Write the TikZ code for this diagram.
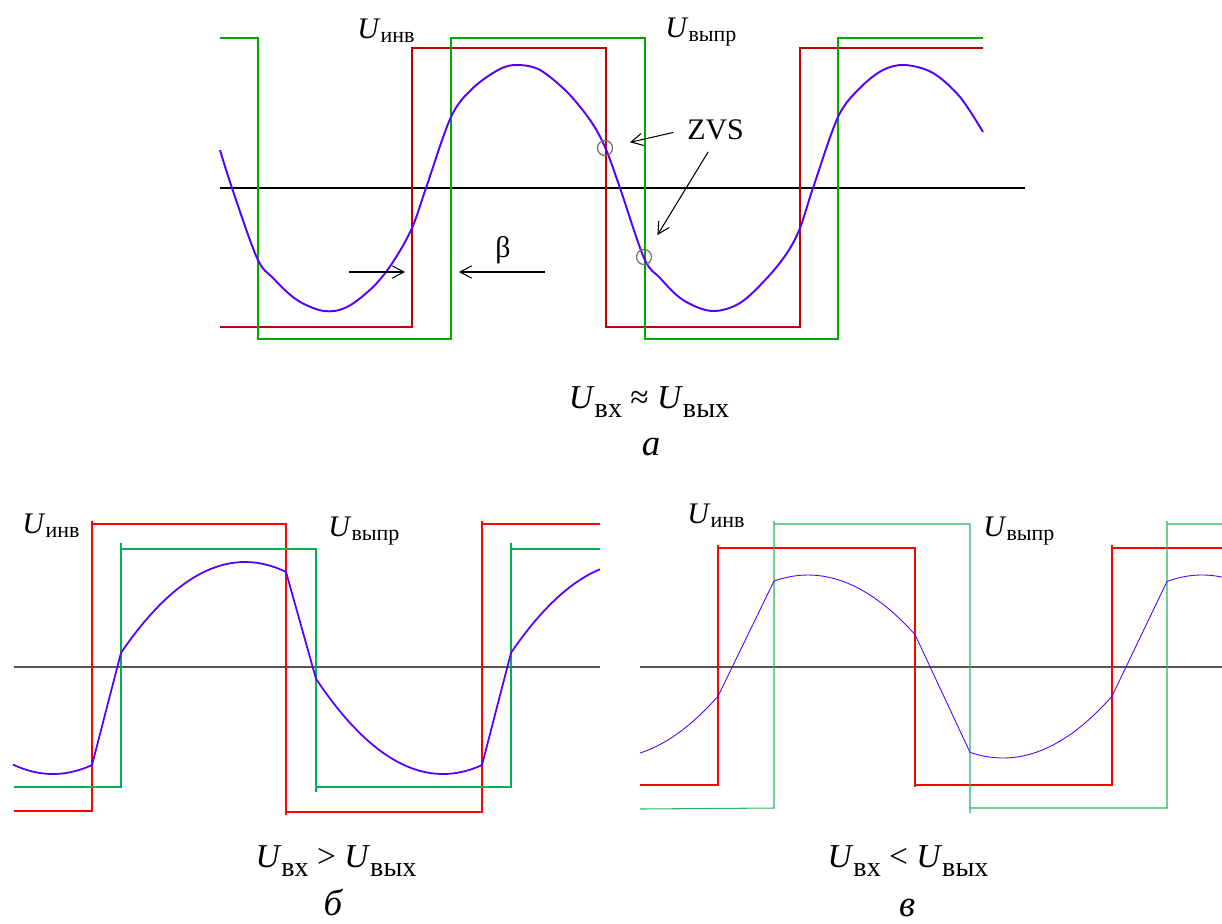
\documentclass[tikz,border=0pt]{standalone}
\usepackage{fontspec}
\setmainfont{Liberation Serif}
\usepackage{tikz}
\usetikzlibrary{arrows.meta,calc}
\definecolor{wavered}{RGB}{192,0,0}
\definecolor{wavegreen}{RGB}{0,170,0}
\definecolor{waveblue}{RGB}{85,0,255}
\definecolor{brightred}{RGB}{255,0,0}
\definecolor{softgreen}{RGB}{0,176,80}
\definecolor{palegreen}{RGB}{40,180,100}
\definecolor{ringgray}{RGB}{110,110,110}
\definecolor{axisgray}{RGB}{85,85,85}
\newcommand{\Ulab}[1]{\textit{U}\raisebox{-2.4pt}{\fontsize{12.5}{13}\selectfont #1}}
\newcommand{\Ucap}[1]{\textit{U}\raisebox{-5.5pt}{\fontsize{16}{17}\selectfont #1}}

\begin{document}
\begin{tikzpicture}[x=0.02cm,y=-0.02cm,
    axisline/.style={line width=0.6pt},
    sqa/.style={line width=1.1pt},
    sqb/.style={line width=1pt},
    sqc/.style={line width=0.6pt},
    wavea/.style={waveblue,line width=1.1pt},
    waveb/.style={waveblue,line width=1pt},
    wavec/.style={waveblue,line width=0.5pt},
    ring/.style={circle,draw=ringgray,line width=0.7pt,minimum size=0.3cm,inner sep=0pt},
    lbl/.style={font=\fontsize{17}{20}\selectfont,inner sep=0pt},
    captext/.style={font=\fontsize{19}{22}\selectfont,inner sep=0pt,anchor=base},
    tagtext/.style={font=\fontsize{21}{24}\selectfont\itshape,inner sep=0pt,anchor=base},
    arr/.style={-{Straight Barb[length=6.6pt,width=7pt]},line width=0.6pt}]
  \useasboundingbox (0,0) rectangle (1222,923);

  % --- a ---
  \draw[axisline] (220,188) -- (1025,188);
  \draw[sqa,wavered] (220,327) -| (412,48) -| (606,327) -| (800,48) -- (983,48);
  \draw[sqa,wavegreen] (220,38) -| (258,339) -| (451,38) -| (645,339) -| (838,38) -- (983,38);
  \draw[wavea] plot[smooth,tension=0.55] coordinates {(220,150) (232,188) (257,258) (273,278)
    (297,300) (324,311) (347,307) (373,287) (393,262) (412,228) (426,188) (451,117) (473,88)
    (500,69) (518,65) (540,70) (567,92) (590,120) (605,147) (620,188) (644,258) (660,278)
    (683,300) (712,311) (740,303) (767,278) (787,253) (800,228) (813,188) (838,117) (860,88)
    (883,70) (905,65) (933,73) (960,97) (983,132)};
  \node[ring] (c1) at (605,148) {};
  \node[ring] (c2) at (644,257) {};

  \node[lbl,anchor=base west] (uinvA) at (357,38) {\Ulab{инв}};
  \node[lbl,anchor=base west] (uvyprA) at (665,37) {\Ulab{выпр}};
  \node[lbl,anchor=base west] (zvs) at (687,139) {ZVS};
  \draw[arr,shorten <=8pt,shorten >=10pt] (zvs.west) -- (c1);
  \draw[arr,shorten <=8pt,shorten >=10pt] (zvs.south) -- (c2);

  \coordinate (redup) at (412,272);
  \coordinate (greenup) at (451,272);
  \coordinate (betaL) at (349,272);
  \coordinate (betaR) at (545,272);
  \draw[arr,shorten >=4pt] (betaL) -- (redup);
  \draw[arr,shorten >=4.5pt] (betaR) -- (greenup);
  \node[lbl] (beta) at (503,250) {β};

  \node[captext] (capA) at (649,408) {\Ucap{вх} ≈ \Ucap{вых}};
  \node[tagtext] (tagA) at (651,455) {а};

  % --- b ---
  \draw[axisline,axisgray] (14,667) -- (600,667);
  \draw[sqb,brightred] (14,811) -- (92,811) -- (92,521) (92,524) -- (286,524) -- (286,815)
    (286,812) -- (482,812) -- (482,521) (482,524) -- (600,524);
  \draw[sqb,softgreen] (14,787) -- (121,787) -- (121,543) (121,549) -- (316,549) -- (316,792)
    (316,787) -- (511,787) -- (511,543) (511,549) -- (600,549);
  \draw[waveb] plot[domain=13:92,samples=20] (\x,{774-0.0059*(\x-53)^2})
    -- plot[domain=121:286,samples=30] (\x,{562+0.0059*(\x-245)^2})
    -- plot[domain=316:482,samples=30] (\x,{774-0.0059*(\x-443)^2})
    -- plot[domain=511:600,samples=20] (\x,{562+0.0059*(\x-635)^2});

  \node[lbl,anchor=base west] (uinvB) at (22,533) {\Ulab{инв}};
  \node[lbl,anchor=base west] (uvyprB) at (328,536) {\Ulab{выпр}};
  \node[captext] (capB) at (336,867) {\Ucap{вх} > \Ucap{вых}};
  \node[tagtext] (tagB) at (333,915) {б};

  % --- c ---
  \draw[axisline,axisgray] (640,667) -- (1222,667);
  \draw[sqc,brightred] (640,785) -- (718,785) -- (718,545) (718,548) -- (915,548) -- (915,787)
    (915,785) -- (1112,785) -- (1112,545) (1112,548) -- (1222,548);
  \draw[sqc,palegreen] (640,809) -- (774,808) -- (774,521) (774,524) -- (970,524) -- (970,813)
    (970,808) -- (1167,808) -- (1167,521) (1167,524) -- (1222,524);
  \draw[wavec] plot[domain=640:718,samples=20] (\x,{758-0.0052*(\x-609)^2})
    -- plot[domain=774:915,samples=30] (\x,{575+0.0052*(\x-808)^2})
    -- plot[domain=970:1112,samples=30] (\x,{758-0.0052*(\x-1003)^2})
    -- plot[domain=1167:1222,samples=20] (\x,{575+0.0052*(\x-1202)^2});

  \node[lbl,anchor=base west] (uinvC) at (687,523) {\Ulab{инв}};
  \node[lbl,anchor=base west] (uvyprC) at (983,536) {\Ulab{выпр}};
  \node[captext] (capC) at (908,867) {\Ucap{вх} < \Ucap{вых}};
  \node[tagtext] (tagC) at (907,916) {в};
\end{tikzpicture}
\end{document}
